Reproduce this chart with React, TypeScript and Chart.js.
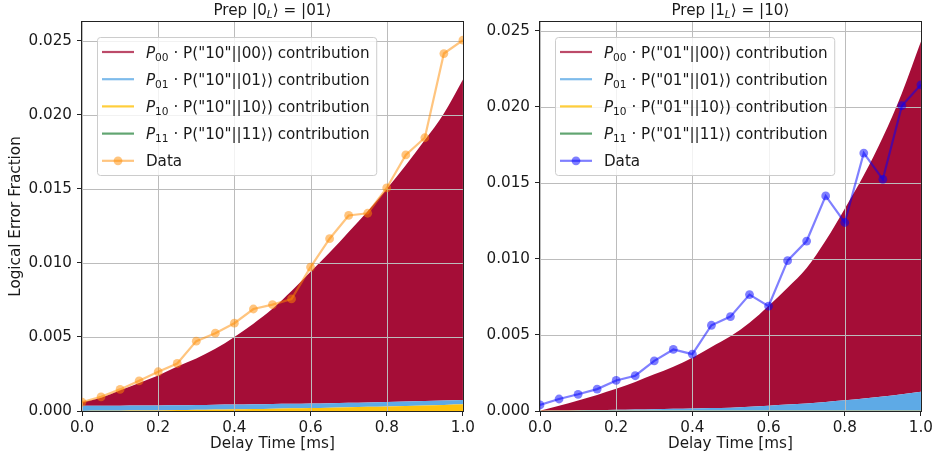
import React, { useEffect, useRef } from "react";
import { Chart, registerables } from "chart.js";

Chart.register(...registerables);

// ---------- data ----------
const delays = [0, 0.05, 0.1, 0.15, 0.2, 0.25, 0.3, 0.35, 0.4, 0.45, 0.5, 0.55, 0.6, 0.65, 0.7, 0.75, 0.8, 0.85, 0.9, 0.95, 1.0];
const xTicks = [0, 0.2, 0.4, 0.6, 0.8, 1.0];
const yTicks = [0, 0.005, 0.01, 0.015, 0.02, 0.025];

// Left panel: Prep |0_L> = |01>, outcome "10"
const leftP00 = [0.00025, 0.00054, 0.00104, 0.00153, 0.00202, 0.00261, 0.00314, 0.00377, 0.00456, 0.00544, 0.00642, 0.00761, 0.00889, 0.01017, 0.01154, 0.01292, 0.01439, 0.01596, 0.01763, 0.01939, 0.02165];
const leftP01 = [0.00035, 0.00035, 0.00034, 0.00034, 0.00034, 0.00033, 0.00033, 0.00033, 0.00032, 0.00032, 0.00032, 0.00031, 0.00031, 0.00031, 0.00031, 0.0003, 0.0003, 0.0003, 0.0003, 0.0003, 0.0003];
const leftP10 = [0, 0.00001, 0.00002, 0.00003, 0.00004, 0.00006, 0.00008, 0.0001, 0.00012, 0.00014, 0.00016, 0.00018, 0.0002, 0.00022, 0.00025, 0.00028, 0.00031, 0.00034, 0.00037, 0.00041, 0.00045];
const leftP11 = [0, 0, 0, 0, 0, 0, 0, 0, 0, 0, 0, 0, 0, 0, 0, 0, 0, 0, 0, 0, 0];
const leftData = [0.0006, 0.00096, 0.00146, 0.00204, 0.00265, 0.00321, 0.00472, 0.00526, 0.00593, 0.00689, 0.00719, 0.00757, 0.00972, 0.01164, 0.01321, 0.01336, 0.01507, 0.01730, 0.01846, 0.02415, 0.02505];

// Right panel: Prep |1_L> = |10>, outcome "01"
const rightP00 = [0, 0.00031, 0.00064, 0.001, 0.00138, 0.00181, 0.00229, 0.00277, 0.00334, 0.00402, 0.00469, 0.00553, 0.00656, 0.00769, 0.00892, 0.01062, 0.01261, 0.01469, 0.01706, 0.01981, 0.02304];
const rightP01 = [0, 0.00001, 0.00003, 0.00004, 0.00006, 0.00008, 0.0001, 0.00012, 0.00015, 0.00017, 0.0002, 0.00026, 0.00033, 0.0004, 0.00047, 0.00057, 0.00068, 0.0008, 0.00093, 0.00108, 0.00125];
const rightP10 = [0.00002, 0.00002, 0.00002, 0.00002, 0.00002, 0.00002, 0.00002, 0.00002, 0.00002, 0.00002, 0.00002, 0.00002, 0.00002, 0.00002, 0.00002, 0.00002, 0.00002, 0.00002, 0.00002, 0.00002, 0.00002];
const rightP11 = [0, 0, 0, 0, 0, 0, 0, 0, 0, 0, 0, 0, 0, 0, 0, 0, 0, 0, 0, 0, 0];
const rightData = [0.0004, 0.00079, 0.0011, 0.00144, 0.00201, 0.00232, 0.0033, 0.00405, 0.00374, 0.00564, 0.00621, 0.00766, 0.0069, 0.00989, 0.01118, 0.01415, 0.0124, 0.01697, 0.01524, 0.02008, 0.02146];

const stateKeys = ["00", "01", "10", "11"];

// ---------- styles ----------
const FONT = "'DejaVu Sans', 'Liberation Sans', sans-serif";
const FS = 15.2;
const TXT = "#1a1a1a";
const RED = "#A50D37";
const BLUE = "#5EAAE6";
const YELLOW = "#FFC20A";
const GREEN = "#3A8F4E";
const RED_L = "rgba(165,13,55,0.75)";
const BLUE_L = "rgba(94,170,230,0.8)";
const YELLOW_L = "rgba(255,194,10,0.8)";
const GREEN_L = "rgba(58,143,78,0.8)";
const GRID = "#bcbcbc";

type Part = { t: string; it?: boolean; sub?: boolean };

function fontFor(p: Part) {
  const size = p.sub ? FS * 0.7 : FS;
  return `${p.it ? "italic " : ""}${size}px ${FONT}`;
}
function measureParts(ctx: CanvasRenderingContext2D, parts: Part[]) {
  let w = 0;
  for (const p of parts) {
    ctx.font = fontFor(p);
    w += ctx.measureText(p.t).width;
  }
  return w;
}
function drawParts(ctx: CanvasRenderingContext2D, parts: Part[], x: number, baseline: number) {
  let cx = x;
  ctx.textAlign = "left";
  ctx.textBaseline = "alphabetic";
  for (const p of parts) {
    ctx.font = fontFor(p);
    ctx.fillText(p.t, cx, baseline + (p.sub ? 3.3 : 0));
    cx += ctx.measureText(p.t).width;
  }
}

interface Side {
  p00: number[];
  p01: number[];
  p10: number[];
  p11: number[];
  data: number[];
  dataColor: string;
  code: string;
  title: Part[];
  ymax: number;
  yWidth: number;
  padRight: number;
  yTitle: boolean;
}

function pts(vals: number[]) {
  return delays.map((d, i) => ({ x: d, y: vals[i] }));
}

function makePlugin(side: Side) {
  return {
    id: "mplStyle",
    beforeDatasetsDraw(chart: any) {
      const { ctx, chartArea: ca, scales } = chart;
      ctx.save();
      ctx.strokeStyle = GRID;
      ctx.lineWidth = 1;
      ctx.beginPath();
      for (const v of xTicks) {
        const px = Math.round(scales.x.getPixelForValue(v)) + 0.5;
        ctx.moveTo(px, ca.top);
        ctx.lineTo(px, ca.bottom);
      }
      for (const v of yTicks) {
        const py = Math.round(scales.y.getPixelForValue(v)) + 0.5;
        ctx.moveTo(ca.left, py);
        ctx.lineTo(ca.right, py);
      }
      ctx.stroke();
      ctx.restore();
    },
    afterDatasetsDraw(chart: any) {
      const { ctx, chartArea: ca } = chart;
      ctx.save();
      ctx.strokeStyle = "#222";
      ctx.lineWidth = 1;
      const l = Math.round(ca.left) - 0.5;
      const r = Math.round(ca.right) + 0.5;
      const t = Math.round(ca.top) - 0.5;
      const b = Math.round(ca.bottom) + 0.5;
      ctx.strokeRect(l, t, r - l, b - t);
      ctx.restore();
    },
    afterDraw(chart: any) {
      const { ctx, chartArea: ca } = chart;
      ctx.save();
      ctx.fillStyle = TXT;
      // title
      const tw = measureParts(ctx, side.title);
      drawParts(ctx, side.title, (ca.left + ca.right) / 2 - tw / 2, ca.top - 7);

      // legend
      const colors = [RED_L, BLUE_L, YELLOW_L, GREEN_L];
      const rows: Part[][] = stateKeys.map((k) => [
        { t: "P", it: true },
        { t: k, sub: true },
        { t: ` · P("${side.code}"||${k}⟩) contribution` },
      ]);
      rows.push([{ t: "Data" }]);
      let maxW = 0;
      for (const r of rows) maxW = Math.max(maxW, measureParts(ctx, r));
      const bx = ca.left + 15.5;
      const by = ca.top + 15.5;
      const bw = 48.4 + maxW + 7;
      const bh = 138;
      const rad = 3;
      ctx.beginPath();
      ctx.moveTo(bx + rad, by);
      ctx.lineTo(bx + bw - rad, by);
      ctx.arcTo(bx + bw, by, bx + bw, by + rad, rad);
      ctx.lineTo(bx + bw, by + bh - rad);
      ctx.arcTo(bx + bw, by + bh, bx + bw - rad, by + bh, rad);
      ctx.lineTo(bx + rad, by + bh);
      ctx.arcTo(bx, by + bh, bx, by + bh - rad, rad);
      ctx.lineTo(bx, by + rad);
      ctx.arcTo(bx, by, bx + rad, by, rad);
      ctx.closePath();
      ctx.fillStyle = "rgba(255,255,255,0.8)";
      ctx.fill();
      ctx.strokeStyle = "#cccccc";
      ctx.lineWidth = 1;
      ctx.stroke();

      rows.forEach((r, i) => {
        const cy = by + 14.5 + i * 27.2;
        const col = i < 4 ? colors[i] : side.dataColor;
        ctx.strokeStyle = col;
        ctx.lineWidth = 2.2;
        ctx.beginPath();
        ctx.moveTo(bx + 4.5, cy);
        ctx.lineTo(bx + 36.5, cy);
        ctx.stroke();
        if (i === 4) {
          ctx.fillStyle = side.dataColor;
          ctx.beginPath();
          ctx.arc(bx + 20.5, cy, 4.4, 0, Math.PI * 2);
          ctx.fill();
        }
        ctx.fillStyle = TXT;
        drawParts(ctx, r, bx + 48.4, cy + 5.5);
      });
      ctx.restore();
    },
  };
}

function buildConfig(side: Side): any {
  const areaBase = {
    borderWidth: 0,
    pointRadius: 0,
    pointHoverRadius: 0,
    stack: "model",
    cubicInterpolationMode: "monotone",
  };
  const tickFont = { family: FONT, size: FS };
  return {
    type: "line",
    data: {
      datasets: [
        { ...areaBase, label: "P10", data: pts(side.p10), fill: "origin", backgroundColor: YELLOW, borderColor: YELLOW },
        { ...areaBase, label: "P01", data: pts(side.p01), fill: "-1", backgroundColor: BLUE, borderColor: BLUE },
        { ...areaBase, label: "P00", data: pts(side.p00), fill: "-1", backgroundColor: RED, borderColor: RED },
        { ...areaBase, label: "P11", data: pts(side.p11), fill: "-1", backgroundColor: GREEN, borderColor: GREEN },
        {
          label: "Data",
          data: pts(side.data),
          stack: "data",
          fill: false,
          borderColor: side.dataColor,
          backgroundColor: side.dataColor,
          pointBackgroundColor: side.dataColor,
          borderWidth: 2.2,
          pointRadius: 4.4,
          pointHoverRadius: 4.4,
          pointBorderWidth: 0,
          tension: 0,
        },
      ],
    },
    options: {
      responsive: false,
      animation: false,
      devicePixelRatio: 1,
      events: [],
      layout: { padding: { left: 0, right: side.padRight, top: 22, bottom: 0 } },
      plugins: {
        legend: { display: false },
        title: { display: false },
        tooltip: { enabled: false },
        filler: { drawTime: "beforeDatasetsDraw", propagate: false },
      },
      scales: {
        x: {
          type: "linear",
          min: 0,
          max: 1,
          afterBuildTicks: (sc: any) => {
            sc.ticks = xTicks.map((v) => ({ value: v }));
          },
          afterFit: (sc: any) => {
            sc.height = 46;
          },
          ticks: {
            callback: (v: number) => Number(v).toFixed(1),
            font: tickFont,
            color: TXT,
            padding: 3,
            maxRotation: 0,
            autoSkip: false,
          },
          grid: { drawOnChartArea: false, drawTicks: true, tickLength: 5, tickColor: "#222", tickWidth: 1 },
          border: { display: false },
          title: {
            display: true,
            text: "Delay Time [ms]",
            font: tickFont,
            color: TXT,
            padding: { top: 0, bottom: 4 },
          },
        },
        y: {
          type: "linear",
          stacked: true,
          min: 0,
          max: side.ymax,
          afterBuildTicks: (sc: any) => {
            sc.ticks = yTicks.map((v) => ({ value: v }));
          },
          afterFit: (sc: any) => {
            sc.width = side.yWidth;
          },
          ticks: {
            callback: (v: number) => Number(v).toFixed(3),
            font: tickFont,
            color: TXT,
            padding: 5,
            autoSkip: false,
          },
          grid: { drawOnChartArea: false, drawTicks: true, tickLength: 5, tickColor: "#222", tickWidth: 1 },
          border: { display: false },
          title: {
            display: side.yTitle,
            text: "Logical Error Fraction",
            font: tickFont,
            color: TXT,
            padding: { top: 7, bottom: 0 },
          },
        },
      },
    },
    plugins: [makePlugin(side)],
  };
}

const leftSide: Side = {
  p00: leftP00,
  p01: leftP01,
  p10: leftP10,
  p11: leftP11,
  data: leftData,
  dataColor: "rgba(255,140,0,0.5)",
  code: "10",
  title: [{ t: "Prep |0" }, { t: "L", it: true, sub: true }, { t: "⟩ = |01⟩" }],
  ymax: 0.02628,
  yWidth: 82,
  padRight: 15,
  yTitle: true,
};

const rightSide: Side = {
  p00: rightP00,
  p01: rightP01,
  p10: rightP10,
  p11: rightP11,
  data: rightData,
  dataColor: "rgba(0,0,255,0.5)",
  code: "01",
  title: [{ t: "Prep |1" }, { t: "L", it: true, sub: true }, { t: "⟩ = |10⟩" }],
  ymax: 0.02559,
  yWidth: 72,
  padRight: 14,
  yTitle: false,
};

export default function App() {
  const leftRef = useRef<HTMLCanvasElement | null>(null);
  const rightRef = useRef<HTMLCanvasElement | null>(null);

  useEffect(() => {
    const charts: Chart[] = [];
    if (leftRef.current) charts.push(new Chart(leftRef.current, buildConfig(leftSide)));
    if (rightRef.current) charts.push(new Chart(rightRef.current, buildConfig(rightSide)));
    return () => {
      charts.forEach((c) => c.destroy());
    };
  }, []);

  return (
    <div style={{ position: "absolute", left: 0, top: 0, width: 936, height: 457, background: "#fff", overflow: "hidden" }}>
      <canvas
        ref={leftRef}
        width={478}
        height={457}
        style={{ position: "absolute", left: 0, top: 0, width: 478, height: 457 }}
      />
      <canvas
        ref={rightRef}
        width={468}
        height={457}
        style={{ position: "absolute", left: 468, top: 0, width: 468, height: 457 }}
      />
    </div>
  );
}
